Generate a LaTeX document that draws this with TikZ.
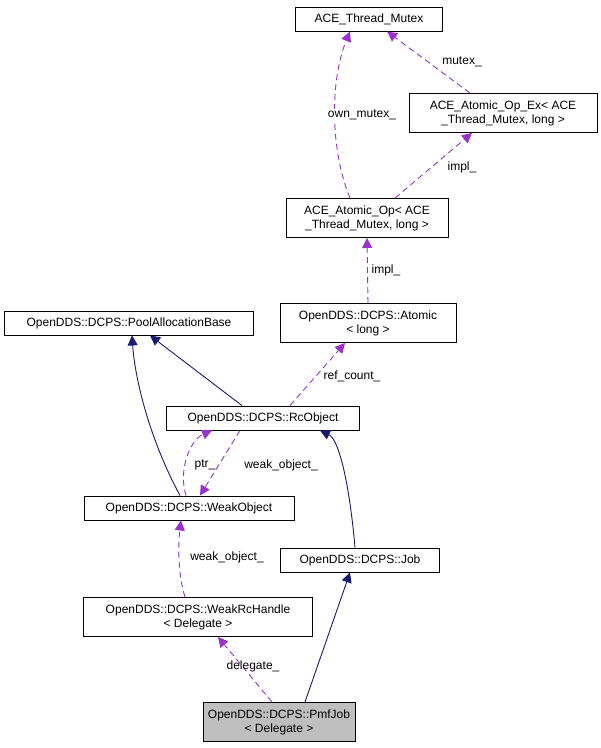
\documentclass[tikz,border=0pt]{standalone}
\usepackage{fontspec}
\setmainfont{Liberation Sans}
\usetikzlibrary{arrows.meta}
\begin{document}
\begin{tikzpicture}[x=1pt,y=-1pt,line width=0.9pt,
  box/.style={draw,fill=white,align=center,font=\fontsize{12}{14}\selectfont,inner sep=2pt},
  inh/.style={draw={rgb,255:red,25;green,25;blue,112},-{Triangle[width=10pt,length=10pt]}},
  use/.style={draw={rgb,255:red,153;green,50;blue,204},dash pattern=on 6pt off 4pt,-{Triangle[width=10pt,length=10pt]}},
  lab/.style={font=\fontsize{12}{14}\selectfont,fill=white,inner sep=1pt}]
\useasboundingbox (0,0) rectangle (601,748);
\node[box,minimum width=147,minimum height=24] (tm) at (369,19) {ACE\_Thread\_Mutex};
\node[box,minimum width=188,minimum height=39] (opex) at (503,113) {ACE\_Atomic\_Op\_Ex< ACE\\\_Thread\_Mutex, long >};
\node[box,minimum width=162,minimum height=39] (op) at (367,218) {ACE\_Atomic\_Op< ACE\\\_Thread\_Mutex, long >};
\node[box,minimum width=176,minimum height=39] (at) at (368,323) {OpenDDS::DCPS::Atomic\\< long >};
\node[box,minimum width=249,minimum height=24] (pab) at (129,323) {OpenDDS::DCPS::PoolAllocationBase};
\node[box,minimum width=193,minimum height=24] (rc) at (263,418) {OpenDDS::DCPS::RcObject};
\node[box,minimum width=210,minimum height=24] (wo) at (189,508) {OpenDDS::DCPS::WeakObject};
\node[box,minimum width=159,minimum height=24] (job) at (360,560) {OpenDDS::DCPS::Job};
\node[box,minimum width=229,minimum height=39] (wrh) at (198,617) {OpenDDS::DCPS::WeakRcHandle\\< Delegate >};
\node[box,fill={rgb,255:red,191;green,191;blue,191},minimum width=152,minimum height=39] (pmf) at (279,722) {OpenDDS::DCPS::PmfJob\\< Delegate >};

\draw[use] (op.north -| 350,0) .. controls (330,150) and (330,80) .. (tm.south -| 350,0);
\node[lab] at (362,115) {own\_mutex\_};
\draw[use] (opex.north -| 470,0) -- (tm.south -| 387,0);
\node[lab] at (462,62) {mutex\_};
\draw[use] (op.north -| 395,0) -- (opex.south -| 472,0);
\node[lab] at (462,167) {impl\_};
\draw[use] (at.north) -- (op.south);
\node[lab,fill=none] at (386,270) {impl\_};
\draw[use] (rc.north -| 290,0) -- (at.south -| 345,0);
\node[lab,fill=none] at (352,376) {ref\_count\_};
\draw[inh] (rc.north -| 242,0) -- (pab.south -| 150,0);
\draw[inh] (wo.north -| 180,0) .. controls (150,440) and (135,380) .. (pab.south -| 132,0);
\draw[use] (wo.north -| 186,0) .. controls (178,470) and (190,440) .. (rc.south -| 212,0);
\node[lab,fill=none] at (205,465) {ptr\_};
\draw[use] (rc.south -| 240,0) -- (wo.north -| 200,0);
\node[lab,fill=none] at (281,465) {weak\_object\_};
\draw[use] (wrh.north -| 185,0) .. controls (178,575) and (178,545) .. (wo.south -| 181,0);
\node[lab,fill=none] at (227,557) {weak\_object\_};
\draw[use] (pmf.north -| 272,0) -- (wrh.south -| 218,0);
\node[lab,fill=none] at (253,666) {delegate\_};
\draw[inh] (pmf.north -| 305,0) -- (job.south -| 350,0);
\draw[inh] (job.north -| 355,0) .. controls (350,490) and (340,440) .. (rc.south -| 320,0);
\end{tikzpicture}
\end{document}
